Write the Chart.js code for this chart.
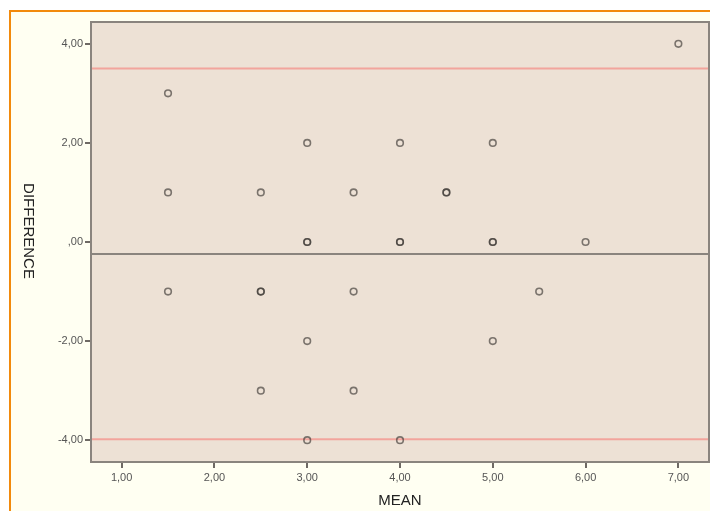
<!DOCTYPE html>
<html>
<head>
<meta charset="utf-8">
<script src="https://cdn.jsdelivr.net/npm/chart.js@4"></script>
<style>
body { margin: 0; background: #fff; }
#wrap { position: relative; width: 710px; height: 511px; overflow: hidden; }
#frame { position: absolute; left: 9px; top: 10px; width: 720px; height: 520px;
  border-left: 2px solid #f28a0c; border-top: 2px solid #f28a0c; background: #fffff2; }
canvas { position: absolute; left: 0; top: 0; }
</style>
</head>
<body>
<div id="wrap"><div id="frame"></div><canvas id="chart" width="710" height="511"></canvas></div>
<script>
// Bland-Altman points (duplicates kept, they show darker)
const meanX = [1.5, 1.5, 1.5, 2.5, 2.5, 2.5, 2.5, 3, 3, 3, 3, 3, 3.5, 3.5, 3.5,
               4, 4, 4, 4, 4.5, 4.5, 5, 5, 5, 5, 5.5, 6, 7];
const diffY = [3, 1, -1, 1, -1, -1, -3, 2, 0, 0, -2, -4, 1, -1, -3,
               2, 0, 0, -4, 1, 1, 2, 0, 0, -2, -1, 0, 4];
const meanDiff = -0.24;
const upperLimit = 3.50;
const lowerLimit = -3.98;
const xTicks = [1, 2, 3, 4, 5, 6, 7];
const yTicks = [-4, -2, 0, 2, 4];
const xMin = 0.67, xMax = 7.33;
const yMin = -4.44, yMax = 4.44;

const points = meanX.map((x, i) => ({ x: x, y: diffY[i] }));
const hline = v => [{ x: xMin, y: v }, { x: xMax, y: v }];

function fmt(v) {
    let s = Math.abs(v).toFixed(2).replace('.', ',');
    if (s.startsWith('0,')) s = s.slice(1);
    return (v < 0 ? '-' : '') + s;
}

const FONT = '"Liberation Sans", Arial, sans-serif';

const plotDecor = {
    id: 'plotDecor',
    beforeDraw(chart) {
        const { ctx, chartArea: a } = chart;
        ctx.save();
        ctx.fillStyle = '#ede1d5';
        ctx.fillRect(a.left, a.top, a.right - a.left, a.bottom - a.top);
        ctx.restore();
    },
    afterDraw(chart) {
        const { ctx, chartArea: a } = chart;
        ctx.save();
        ctx.strokeStyle = '#8a847e';
        ctx.lineWidth = 2;
        ctx.strokeRect(a.left, a.top, a.right - a.left, a.bottom - a.top);
        ctx.translate(28, 231);
        ctx.rotate(Math.PI / 2);
        ctx.font = '15px ' + FONT;
        ctx.fillStyle = '#222';
        ctx.textAlign = 'center';
        ctx.textBaseline = 'middle';
        ctx.fillText('DIFFERENCE', 0, 0);
        ctx.restore();
    }
};

new Chart(document.getElementById('chart'), {
    data: {
        datasets: [
            { type: 'line', data: hline(upperLimit), borderColor: '#f2a49c', borderWidth: 2, pointRadius: 0, order: 2 },
            { type: 'line', data: hline(lowerLimit), borderColor: '#f2a49c', borderWidth: 2, pointRadius: 0, order: 2 },
            { type: 'line', data: hline(meanDiff), borderColor: '#8a847e', borderWidth: 2, pointRadius: 0, order: 2 },
            {
                type: 'scatter',
                data: points,
                pointRadius: 3.3,
                pointBorderWidth: 1.6,
                pointBackgroundColor: 'rgba(0,0,0,0)',
                pointBorderColor: 'rgba(60,56,52,0.65)',
                order: 1
            }
        ]
    },
    options: {
        responsive: false,
        animation: false,
        layout: { autoPadding: false, padding: { left: 0, top: 22, right: 1, bottom: 0 } },
        plugins: { legend: { display: false }, tooltip: { enabled: false } },
        scales: {
            x: {
                type: 'linear',
                min: xMin,
                max: xMax,
                afterBuildTicks: s => { s.ticks = xTicks.map(v => ({ value: v })); },
                afterFit: s => { s.height = 49; s.paddingLeft = 0; s.paddingRight = 0; },
                grid: { drawOnChartArea: false, drawTicks: true, tickLength: 6, color: '#6e6964', lineWidth: 2 },
                border: { display: true, color: '#8a847e', width: 2 },
                ticks: { callback: v => fmt(v), color: '#555', font: { family: FONT, size: 11 }, padding: 3, maxRotation: 0 },
                title: { display: true, text: 'MEAN', color: '#222', font: { family: FONT, size: 15 }, padding: { top: 0, bottom: 1 } }
            },
            y: {
                type: 'linear',
                min: yMin,
                max: yMax,
                afterBuildTicks: s => { s.ticks = yTicks.map(v => ({ value: v })); },
                afterFit: s => { s.width = 91; s.paddingTop = 0; s.paddingBottom = 0; },
                grid: { drawOnChartArea: false, drawTicks: true, tickLength: 6, color: '#6e6964', lineWidth: 2 },
                border: { display: true, color: '#8a847e', width: 2 },
                ticks: { callback: v => fmt(v), color: '#555', font: { family: FONT, size: 11 }, padding: 2 }
            }
        }
    },
    plugins: [plotDecor]
});
</script>
</body>
</html>
